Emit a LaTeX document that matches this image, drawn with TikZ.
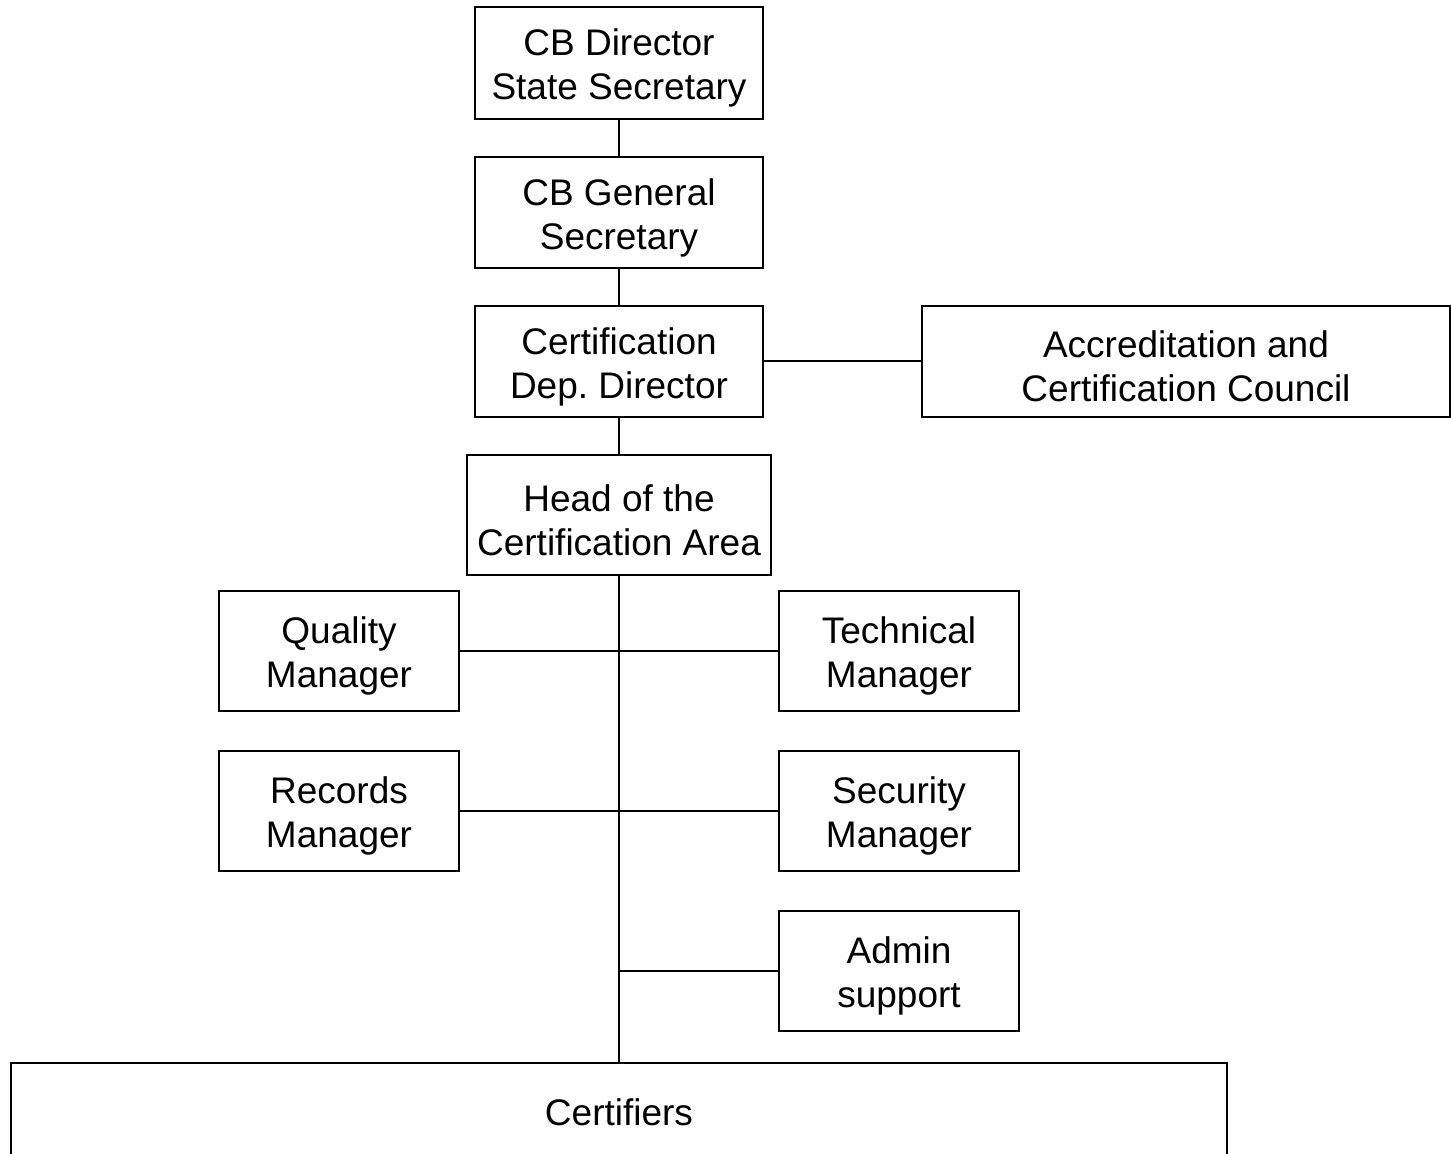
\documentclass[tikz,border=0pt]{standalone}
\usepackage{fontspec}
\setmainfont{Liberation Sans}
\usepackage{tikz}
\usetikzlibrary{positioning,calc}

\begin{document}
\begin{tikzpicture}[x = .5pt, y = -.5pt,
  plainbox/.style = {draw, line width = 1pt, align = center, inner sep = 0pt,
    font = \fontsize{18.5}{22}\selectfont, minimum width = 120pt, minimum height = 60pt},
  box/.style = {plainbox, execute at begin node = {\rule{0pt}{40.5pt}}},
  link/.style = {line width = 1pt}]
\useasboundingbox (0, 0) rectangle (1451, 1154);

\node[box, minimum width = 144pt, minimum height = 56pt] (dir) at (619, 63) {CB Director\\State Secretary};
\node[box, minimum width = 144pt, minimum height = 55.5pt] (gensec) at (619, 212.5) {CB General\\Secretary};
\node[box, minimum width = 144pt, minimum height = 55.5pt] (depdir) at (619, 361.5) {Certification\\Dep.\ Director};
\node[box, minimum width = 264pt, minimum height = 55.5pt] (council) at (1186, 361.5) {Accreditation and\\Certification Council};
\node[box, minimum width = 152pt] (head) at (619, 515) {Head of the\\Certification Area};

\node[box] (quality) at (339, 651) {Quality\\Manager};
\node[box] (technical) at (899, 651) {Technical\\Manager};
\node[box] (records) at (339, 811) {Records\\Manager};
\node[box] (security) at (899, 811) {Security\\Manager};
\node[box] (admin) at (899, 971) {Admin\\support};

\node[plainbox, minimum width = 608pt, minimum height = 49pt] (certifiers) at (619, 1112) {Certifiers};

\draw[link] (dir) -- (gensec);
\draw[link] (gensec) -- (depdir);
\draw[link] (depdir) -- (head);
\draw[link] (depdir) -- (council);

\draw[link] (head) -- (certifiers);
\draw[link] (quality) -- (technical);
\draw[link] (records) -- (security);
\coordinate (adminjoin) at (admin.west -| head.south);
\draw[link] (admin) -- (adminjoin);

\end{tikzpicture}
\end{document}
